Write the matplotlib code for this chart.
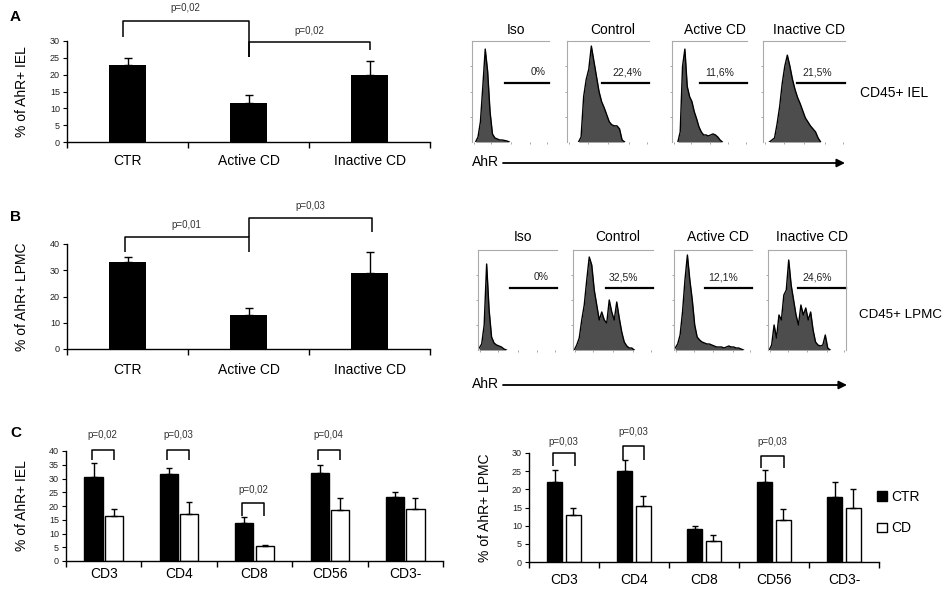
import numpy as np
import matplotlib
matplotlib.use('Agg')
import matplotlib.pyplot as plt
from matplotlib.patches import Patch

plt.rcParams['font.family'] = ['Liberation Sans', 'DejaVu Sans']
plt.rcParams['axes.linewidth'] = 1.0

W, H = 946, 592

# ---- bar data (A, B) ----
groups = ['CTR', 'Active CD', 'Inactive CD']
iel_mean = [23, 11.5, 20]
iel_err = [2, 2.5, 4]
lpmc_mean = [33, 13, 29]
lpmc_err = [2, 2.5, 8]

# ---- bar data (C) ----
subsets = ['CD3', 'CD4', 'CD8', 'CD56', 'CD3-']
iel_ctr = [30.5, 31.5, 14, 32, 23.3]
iel_ctr_err = [5, 2.5, 2, 3, 1.7]
iel_cd = [16.5, 17, 5.5, 18.5, 19]
iel_cd_err = [2.5, 4.3, 0.5, 4.5, 4]
lpmc_ctr = [22, 25, 9, 22, 18]
lpmc_ctr_err = [3.3, 3, 1, 3.3, 4]
lpmc_cd = [13, 15.3, 5.7, 11.5, 15]
lpmc_cd_err = [2, 3, 1.8, 3.2, 5]

# ---- flow histograms (relative counts per AhR bin) ----
hist_titles = ['Iso', 'Control', 'Active CD', 'Inactive CD']
iel_gates = ['0%', '22,4%', '11,6%', '21,5%']
lpmc_gates = ['0%', '32,5%', '12,1%', '24,6%']
iel_hists = [
    [0, 0, 0.05, 0.2, 0.55, 0.92, 0.7, 0.3, 0.08, 0.04, 0.03, 0.02, 0.02, 0.015, 0.01],
    [0, 0, 0, 0, 0, 0.05, 0.45, 0.62, 0.72, 0.95, 0.8, 0.65, 0.5, 0.4, 0.34, 0.27,
     0.2, 0.17, 0.16, 0.16, 0.13, 0.02],
    [0, 0, 0, 0.1, 0.75, 0.92, 0.55, 0.45, 0.4, 0.3, 0.23, 0.15, 0.1, 0.07, 0.07,
     0.06, 0.07, 0.08, 0.07, 0.05, 0.02],
    [0, 0, 0, 0.02, 0.04, 0.18, 0.35, 0.58, 0.75, 0.86, 0.75, 0.62, 0.52, 0.44, 0.38,
     0.31, 0.24, 0.2, 0.16, 0.13, 0.1, 0.04],
]
lpmc_hists = [
    [0.02, 0.06, 0.25, 0.86, 0.4, 0.13, 0.07, 0.05, 0.04, 0.03, 0.01],
    [0, 0.05, 0.12, 0.3, 0.45, 0.7, 0.93, 0.85, 0.6, 0.45, 0.3, 0.38, 0.3, 0.27, 0.5,
     0.38, 0.3, 0.48, 0.32, 0.18, 0.08, 0.04, 0.02, 0.02],
    [0.02, 0.06, 0.15, 0.38, 0.7, 0.95, 0.7, 0.5, 0.25, 0.13, 0.1, 0.08, 0.07, 0.06,
     0.06, 0.05, 0.04, 0.03, 0.03, 0.03, 0.02, 0.03, 0.04, 0.03, 0.03, 0.02, 0.02, 0.01],
    [0, 0.05, 0.25, 0.12, 0.35, 0.3, 0.55, 0.6, 0.9, 0.65, 0.5, 0.35, 0.25, 0.45, 0.35,
     0.42, 0.3, 0.38, 0.2, 0.08, 0.05, 0.04, 0.05, 0.15, 0.02],
]
NBINS = 32

fig = plt.figure(figsize=(W / 100, H / 100), dpi=100)

# overlay in pixel coords for labels / arrows
ov = fig.add_axes([0, 0, 1, 1], zorder=-1)
ov.set_xlim(0, W)
ov.set_ylim(H, 0)
ov.axis('off')


def px_axes(x0, y0, x1, y1):
    ax = fig.add_axes([x0 / W, 1 - y1 / H, (x1 - x0) / W, (y1 - y0) / H])
    ax.patch.set_alpha(0)
    return ax


def style_bars(ax, n, ymax, ystep, labels, pad, ylabel, label_x):
    ax.set_xlim(0, n)
    ax.set_ylim(0, ymax)
    ax.set_yticks(np.arange(0, ymax + 1, ystep))
    ax.set_xticks(np.arange(n + 1))
    ax.set_xticklabels([])
    ax.set_xticks(np.arange(n) + 0.5, minor=True)
    ax.set_xticklabels(labels, minor=True, fontsize=10)
    ax.tick_params(axis='x', which='minor', length=0, pad=pad)
    ax.tick_params(axis='x', which='major', length=4, width=1)
    ax.tick_params(axis='y', length=3, labelsize=6.5, pad=2, labelcolor='#222')
    ax.spines['top'].set_visible(False)
    ax.spines['right'].set_visible(False)
    ax.set_ylabel(ylabel, fontsize=10, va='center')
    ax.yaxis.set_label_coords(label_x, 0.5)


def bracket(ax, x0, x1, top, left_end, right_end, text, ty):
    ax.plot([x0, x0, x1, x1], [left_end, top, top, right_end], color='black',
            lw=1.1, clip_on=False, solid_capstyle='butt')
    ax.text((x0 + x1) / 2, ty, text, ha='center', va='center', fontsize=7,
            color='#333', clip_on=False)


# ---- Panel A bars ----
axA = px_axes(67, 41, 430, 142)
xg = np.arange(len(groups)) + 0.5
axA.bar(xg, iel_mean, width=0.31, color='black')
axA.errorbar(xg, iel_mean, yerr=[np.zeros(3), iel_err], fmt='none', ecolor='black',
             elinewidth=1, capsize=3)
style_bars(axA, 3, 30, 5, groups, 8.5, '% of AhR+ IEL', -0.124)
bracket(axA, 0.46, 1.5, 35.9, 31.2, 25.2, 'p=0,02', 39.8)
bracket(axA, 1.5, 2.5, 29.7, 25.2, 27.3, 'p=0,02', 33.0)

# ---- Panel B bars ----
axB = px_axes(67, 244, 430, 349)
axB.bar(xg, lpmc_mean, width=0.31, color='black')
axB.errorbar(xg, lpmc_mean, yerr=[np.zeros(3), lpmc_err], fmt='none', ecolor='black',
             elinewidth=1, capsize=3)
style_bars(axB, 3, 40, 10, groups, 10, '% of AhR+ LPMC', -0.124)
bracket(axB, 0.48, 1.5, 42.7, 37.0, 37.0, 'p=0,01', 47.2)
bracket(axB, 1.5, 2.52, 49.9, 42.7, 44.6, 'p=0,03', 54.5)

# ---- Panel C bars ----
xs = np.arange(len(subsets)) + 0.5


def paired_bars(ax, ctr, ctr_err, cd, cd_err, w):
    ax.bar(xs - 0.135, ctr, width=w, color='black', edgecolor='black', lw=1)
    ax.bar(xs + 0.135, cd, width=w, color='white', edgecolor='black', lw=1)
    ax.errorbar(xs - 0.135, ctr, yerr=[np.zeros(5), ctr_err], fmt='none',
                ecolor='black', elinewidth=1, capsize=2.5)
    ax.errorbar(xs + 0.135, cd, yerr=[np.zeros(5), cd_err], fmt='none',
                ecolor='black', elinewidth=1, capsize=2.5)


axC1 = px_axes(66, 451, 443, 561)
paired_bars(axC1, iel_ctr, iel_ctr_err, iel_cd, iel_cd_err, 0.24)
style_bars(axC1, 5, 40, 5, subsets, 4, '% of AhR+ IEL', -0.117)
for i, txt in [(0, 'p=0,02'), (1, 'p=0,03'), (3, 'p=0,04')]:
    bracket(axC1, xs[i] - 0.16, xs[i] + 0.13, 40.4, 36.7, 36.7, txt, 45.8)
bracket(axC1, xs[2] - 0.16, xs[2] + 0.13, 21.1, 16.4, 16.4, 'p=0,02', 25.8)

axC2 = px_axes(529, 453, 879, 562)
paired_bars(axC2, lpmc_ctr, lpmc_ctr_err, lpmc_cd, lpmc_cd_err, 0.22)
style_bars(axC2, 5, 30, 5, subsets, 8, '% of AhR+ LPMC', -0.126)
bracket(axC2, xs[0] - 0.16, xs[0] + 0.15, 30.0, 26.4, 26.4, 'p=0,03', 33.0)
bracket(axC2, xs[1] - 0.16, xs[1] + 0.14, 32.0, 28.1, 28.1, 'p=0,03', 35.8)
bracket(axC2, xs[3] - 0.18, xs[3] + 0.14, 29.2, 25.9, 25.9, 'p=0,03', 33.0)

fig.legend(handles=[Patch(facecolor='black', edgecolor='black'),
                    Patch(facecolor='white', edgecolor='black')],
           labels=['CTR', 'CD'], loc='upper left', bbox_to_anchor=(877 / W, 1 - 490 / H),
           fontsize=10, frameon=False, handlelength=0.7, handleheight=0.7,
           handletextpad=0.3, labelspacing=1.25, borderaxespad=0, borderpad=0)


# ---- flow histograms ----
def draw_hist(ax, heights, gate, gate_x0, gate_y, text_x, right_spine):
    h = np.zeros(NBINS)
    h[:len(heights)] = heights
    x = (np.arange(NBINS) + 0.5) / NBINS
    nz = np.nonzero(h)[0]
    i0, i1 = max(nz[0] - 1, 0), min(nz[-1] + 2, NBINS)
    ax.fill_between(x[i0:i1], h[i0:i1], color='#4d4d4d', lw=0)
    ax.plot(x[i0:i1], h[i0:i1], color='black', lw=1.0)
    ax.set_xlim(0, 1)
    ax.set_ylim(0, 1)
    ax.plot([gate_x0, 1.0], [gate_y, gate_y], color='black', lw=1.6, clip_on=False)
    ax.text(text_x, gate_y + 0.11, gate, ha='center', va='center', fontsize=7.5,
            color='#222')
    for s in ['left', 'top', 'right']:
        ax.spines[s].set_color('#aaaaaa')
        ax.spines[s].set_linewidth(0.8)
    ax.spines['right'].set_visible(right_spine)
    ax.spines['bottom'].set_visible(False)
    ax.set_xticks([0.02, 0.25, 0.5, 0.75, 0.98])
    ax.set_yticks([0.25, 0.5, 0.75])
    ax.tick_params(length=1.5, width=0.6, color='#999', labelbottom=False,
                   labelleft=False)


rowA_boxes = [(472, 549), (567, 649), (672, 747), (763, 845)]
rowB_boxes = [(478, 557), (573, 653), (674, 752), (768, 846)]
rowA_gate_x0 = [0.43, 0.43, 0.37, 0.41]
rowB_gate_x0 = [0.40, 0.41, 0.40, 0.38]
rowA_text_x = [0.86, 0.73, 0.64, 0.66]
rowB_text_x = [0.80, 0.63, 0.63, 0.63]

for k, (x0, x1) in enumerate(rowA_boxes):
    ax = px_axes(x0, 41, x1, 142)
    draw_hist(ax, iel_hists[k], iel_gates[k], rowA_gate_x0[k], 0.58, rowA_text_x[k], False)
    ov.text((x0 + x1) / 2 + 5, 30, hist_titles[k], ha='center', va='center', fontsize=10)

for k, (x0, x1) in enumerate(rowB_boxes):
    ax = px_axes(x0, 250, x1, 350)
    draw_hist(ax, lpmc_hists[k], lpmc_gates[k], rowB_gate_x0[k], 0.62, rowB_text_x[k], k == 3)
    ov.text((x0 + x1) / 2 + 5, 237, hist_titles[k], ha='center', va='center', fontsize=10)

# AhR arrows and row labels
for y_txt, y_arr, x_end in [(162, 163, 845), (384, 385, 847)]:
    ov.text(472, y_txt, 'AhR', ha='left', va='center', fontsize=10)
    ov.annotate('', xy=(x_end, y_arr), xytext=(503, y_arr),
                arrowprops=dict(arrowstyle='-|>', color='black', lw=1.3,
                                mutation_scale=12, shrinkA=0, shrinkB=0))
ov.text(860, 93, 'CD45+ IEL', ha='left', va='center', fontsize=10)
ov.text(859, 315, 'CD45+ LPMC', ha='left', va='center', fontsize=9.6)

for lab, y in [('A', 17), ('B', 217), ('C', 433)]:
    ov.text(10, y, lab, ha='left', va='center', fontsize=11, fontweight='bold')

fig.savefig('out.png', dpi=100)
